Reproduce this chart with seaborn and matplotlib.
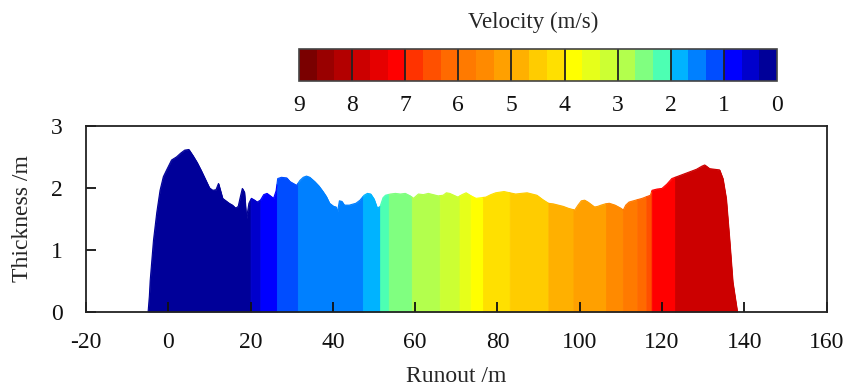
import numpy as np
import pandas as pd
import matplotlib
matplotlib.use("Agg")
import matplotlib.pyplot as plt
import seaborn as sns
from matplotlib.colors import ListedColormap, BoundaryNorm
from matplotlib.cm import ScalarMappable
from matplotlib.ticker import NullLocator

# ---------------- data ----------------
runout = [-4.9, -4.6, -4.4, -3.6, -2.8, -2.0, -1.2, -0.4, 0.8, 2.0, 3.0, 4.0, 5.0,
          6.0, 7.0, 8.0, 9.0, 10.0, 10.8, 11.6, 12.2, 12.7, 13.2, 14.0, 14.8, 15.6,
          16.4, 17.0, 17.5, 18.0, 18.5, 19.0, 19.6, 20.2, 21.0, 21.6, 22.4, 23.2,
          24.0, 24.8, 25.6, 26.2, 26.6, 27.5, 28.8, 29.6, 30.4, 31.2, 32.0, 32.8,
          33.6, 34.4, 35.6, 36.6, 37.6, 38.4, 39.2, 40.2, 40.8, 41.1, 41.6, 42.2,
          42.8, 44.0, 45.6, 46.6, 47.6, 48.4, 49.2, 50.0, 50.8, 51.5, 52.2, 52.8,
          54.0, 55.2, 56.4, 57.6, 58.8, 59.6, 60.8, 62.0, 63.2, 64.4, 65.6, 66.8,
          67.6, 68.4, 69.4, 70.4, 71.4, 72.4, 73.6, 74.8, 76.0, 77.2, 78.4, 79.6,
          80.6, 81.6, 83.0, 84.4, 85.8, 87.2, 88.4, 89.6, 91.0, 92.4, 93.6, 94.8,
          96.0, 97.2, 98.8, 99.6, 100.4, 101.2, 102.0, 103.6, 104.4, 105.2, 106.2,
          107.2, 108.6, 110.0, 110.6, 111.2, 112.0, 113.6, 115.2, 116.4, 117.2,
          117.6, 118.8, 120.0, 121.2, 122.4, 123.6, 124.8, 126.0, 127.2, 128.4,
          129.7, 130.4, 131.6, 132.8, 134.0, 134.8, 135.6, 136.4, 137.2, 138.0, 138.3]
thickness = [0.0, 0.25, 0.5, 1.15, 1.6, 1.96, 2.18, 2.29, 2.45, 2.5, 2.56, 2.61, 2.62,
             2.52, 2.41, 2.28, 2.14, 2.0, 1.96, 1.97, 2.07, 1.95, 1.83, 1.79, 1.75, 1.72,
             1.67, 1.70, 1.85, 1.99, 1.93, 1.50, 1.75, 1.83, 1.80, 1.77, 1.80, 1.89,
             1.91, 1.87, 1.83, 1.95, 2.15, 2.17, 2.16, 2.10, 2.07, 2.04, 2.12, 2.17,
             2.19, 2.17, 2.10, 2.03, 1.94, 1.86, 1.75, 1.70, 1.69, 1.60, 1.79, 1.78,
             1.72, 1.72, 1.75, 1.80, 1.88, 1.91, 1.90, 1.82, 1.67, 1.70, 1.84, 1.88,
             1.90, 1.91, 1.90, 1.91, 1.87, 1.83, 1.90, 1.89, 1.91, 1.89, 1.87, 1.88,
             1.92, 1.91, 1.88, 1.85, 1.89, 1.92, 1.87, 1.83, 1.84, 1.85, 1.89, 1.92,
             1.93, 1.94, 1.92, 1.90, 1.91, 1.92, 1.90, 1.88, 1.81, 1.75, 1.74, 1.72,
             1.70, 1.67, 1.64, 1.72, 1.79, 1.80, 1.77, 1.69, 1.70, 1.72, 1.74,
             1.75, 1.72, 1.67, 1.64, 1.72, 1.77, 1.80, 1.83, 1.86, 1.88,
             1.96, 1.98, 1.99, 2.06, 2.15, 2.18, 2.21, 2.24, 2.27, 2.30,
             2.35, 2.37, 2.31, 2.30, 2.29, 2.15, 1.83, 1.18, 0.48, 0.13, 0.0]

# velocity zones along the runout: start, end and velocity (m/s)
zone_start = [-4.9, 20.0, 22.4, 26.4, 31.5, 47.3, 51.5, 53.6, 59.2, 66.0, 70.8,
              73.5, 76.5, 83.0, 92.4, 98.5, 106.4, 110.5, 114.0, 116.2, 117.5, 123.2]
zone_end = [20.0, 22.4, 26.4, 31.5, 47.3, 51.5, 53.6, 59.2, 66.0, 70.8, 73.5,
            76.5, 83.0, 92.4, 98.5, 106.4, 110.5, 114.0, 116.2, 117.5, 123.2, 138.3]
zone_velocity = [0.15, 0.5, 0.85, 1.15, 1.5, 1.8, 2.15, 2.5, 2.8, 3.15, 3.5,
                 3.85, 4.15, 4.5, 4.85, 5.15, 5.5, 5.85, 6.15, 6.5, 7.15, 7.8]

# discrete colour scale, 0 -> 9 m/s in steps of 1/3
level_colors = ["#000099", "#0000cc", "#0000ff", "#004dff", "#0080ff", "#00b3ff",
                "#4dffb3", "#80ff80", "#b3ff4d", "#ccff33", "#e6ff1a", "#ffff00",
                "#ffe000", "#ffcc00", "#ffb000", "#ffa000", "#ff8a00", "#ff7a00",
                "#ff6a00", "#ff5000", "#ff3300", "#ff0000", "#e60000", "#cc0000",
                "#b30000", "#990000", "#7a0000"]
cbar_ticks = [0, 1, 2, 3, 4, 5, 6, 7, 8, 9]
x_ticks = [-20, 0, 20, 40, 60, 80, 100, 120, 140, 160]
y_ticks = [0, 1, 2, 3]

# ---------------- style ----------------
sns.set_theme(style="ticks")
plt.rcParams["font.family"] = ["Liberation Serif", "DejaVu Serif"]
plt.rcParams["axes.edgecolor"] = "#222222"
plt.rcParams["axes.unicode_minus"] = False

cmap = ListedColormap(level_colors)
bounds = np.linspace(0, 9, len(level_colors) + 1)
norm = BoundaryNorm(bounds, cmap.N)

# build a long table: each zone's slice of the thickness profile
rx = np.asarray(runout)
rh = np.asarray(thickness)
rows = []
for zi, (a, b, v) in enumerate(zip(zone_start, zone_end, zone_velocity)):
    inner = rx[(rx > a) & (rx < b)]
    xs = np.concatenate([[a], inner, [b]])
    hs = np.interp(xs, rx, rh)
    for x, h in zip(xs, hs):
        rows.append({"Runout": x, "Thickness": h, "zone": zi, "velocity": v})
df = pd.DataFrame(rows)
palette = {zi: matplotlib.colors.to_hex(cmap(norm(v))) for zi, v in enumerate(zone_velocity)}

W, H = 847, 391
fig = plt.figure(figsize=(W / 100, H / 100), dpi=100)
ax = fig.add_axes([86 / W, 1 - 311.5 / H, 740.5 / W, 185.5 / H])

for zi, g in df.groupby("zone"):
    ax.fill_between(g["Runout"], 0, g["Thickness"], color=palette[zi], lw=0.6,
                    edgecolor=palette[zi], zorder=2)
sns.lineplot(data=df, x="Runout", y="Thickness", hue="zone", palette=palette,
             estimator=None, sort=False, legend=False, lw=0.8, ax=ax, zorder=2.2)

ax.set_axisbelow(False)
ax.set_xlim(-20, 160)
ax.set_ylim(0, 3)
ax.set_xticks(x_ticks)
ax.set_yticks(y_ticks)
ax.tick_params(axis="both", direction="in", length=7, width=1.3, labelsize=17,
               colors="#111111", top=False, right=False)
ax.tick_params(axis="x", pad=15)
ax.tick_params(axis="y", pad=17)
for s in ax.spines.values():
    s.set_visible(True)
    s.set_linewidth(1.3)
    s.set_zorder(3)
ax.set_xlabel("Runout /m", fontsize=17)
ax.set_ylabel("Thickness /m", fontsize=17)
ax.xaxis.set_label_coords(0.5, (311.5 - 377) / 185.5)
ax.xaxis.label.set_va("center")
ax.yaxis.set_label_coords((22.5 - 86) / 740.5, 0.5)
ax.yaxis.label.set_va("center")

# colour bar
cax = fig.add_axes([299 / W, 1 - 81 / H, 478 / W, 32 / H])
sm = ScalarMappable(norm=norm, cmap=cmap)
cb = fig.colorbar(sm, cax=cax, orientation="horizontal", ticks=cbar_ticks)
cax.set_xlim(9, 0)
cax.xaxis.set_minor_locator(NullLocator())
cb.outline.set_linewidth(1.2)
cb.outline.set_edgecolor("#444444")
for v in cbar_ticks[1:-1]:
    cax.axvline(v, color="#222222", lw=1.3)
cax.tick_params(axis="x", which="both", length=0, pad=10, labelsize=17, colors="#111111")
cax.set_xticklabels([str(t) for t in cbar_ticks])
fig.text(533 / W, 1 - 22 / H, "Velocity (m/s)", ha="center", va="center", fontsize=16.5)

fig.savefig("out.png", dpi=100)
